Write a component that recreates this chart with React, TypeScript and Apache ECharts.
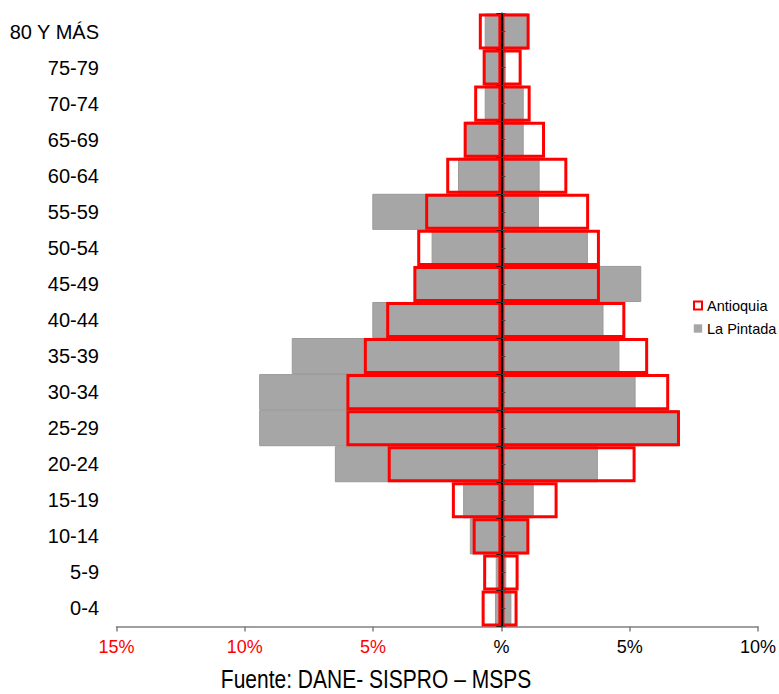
import React, { useEffect, useRef } from "react";
import * as echarts from "echarts";

// Age groups, bottom to top
const categories = [
  "0-4", "5-9", "10-14", "15-19", "20-24", "25-29", "30-34", "35-39", "40-44",
  "45-49", "50-54", "55-59", "60-64", "65-69", "70-74", "75-79", "80 Y MÁS",
];

// La Pintada (%), left side (men) and right side (women)
const laPintadaLeft = [0.25, 0.22, 1.23, 1.49, 6.49, 9.44, 9.44, 8.17, 5.03, 3.41, 2.72, 5.03, 1.69, 1.43, 0.65, 0.65, 0.65];
const laPintadaRight = [0.39, 0.19, 1.04, 1.26, 3.76, 6.91, 5.23, 4.6, 3.98, 5.45, 3.37, 1.46, 1.49, 0.87, 0.87, 0.17, 1.06];

// Antioquia (%), left side and right side
const antioquiaLeft = [0.77, 0.71, 1.12, 1.93, 4.43, 6.04, 6.04, 5.36, 4.49, 3.43, 3.28, 2.97, 2.15, 1.47, 1.06, 0.73, 0.88];
const antioquiaRight = [0.63, 0.67, 1.09, 2.19, 5.23, 6.96, 6.54, 5.72, 4.83, 3.84, 3.84, 3.42, 2.57, 1.7, 1.14, 0.79, 1.1];

const xTicks = [-15, -10, -5, 0, 5, 10];
const sourceText = "Fuente: DANE- SISPRO – MSPS";

const FONT = "'Liberation Sans', Arial, sans-serif";

export default function App() {
  const ref = useRef<HTMLDivElement>(null);

  useEffect(() => {
    if (!ref.current) return;
    const chart = echarts.init(ref.current, undefined, { renderer: "svg" });
    const halfCats = categories.flatMap((c) => [c + "_a", c + "_b"]);

    const greyStyle = { color: "#a6a6a6", borderColor: "#9a9a9a", borderWidth: 1 };
    const redStyle = { color: "rgba(255,255,255,0)", borderColor: "#ff0000", borderWidth: 3 };

    chart.setOption({
      animation: false,
      backgroundColor: "#ffffff",
      grid: { left: 116.5, right: 20.5, top: 13.5, bottom: 67.5, containLabel: false },
      legend: {
        orient: "vertical",
        left: 693,
        top: 298,
        padding: 0,
        itemWidth: 8,
        itemHeight: 8,
        itemGap: 8,
        textStyle: { fontFamily: FONT, fontSize: 14.5, color: "#000", lineHeight: 15 },
        data: [
          { name: "Antioquia", icon: "rect", itemStyle: { color: "#ffffff", borderColor: "#ff0000", borderWidth: 2 } },
          { name: "La Pintada", icon: "rect", itemStyle: { color: "#a6a6a6", borderColor: "#b0b0b0", borderWidth: 0.5 } },
        ],
      },
      xAxis: {
        type: "value",
        min: xTicks[0],
        max: xTicks[xTicks.length - 1],
        interval: 5,
        axisLine: { show: true, lineStyle: { color: "#808080", width: 1.5 } },
        axisTick: { show: true, length: 5, lineStyle: { color: "#808080", width: 1.5 } },
        splitLine: { show: false },
        axisLabel: {
          margin: 11,
          fontFamily: FONT,
          fontSize: 18,
          color: "#000",
          formatter: (v: number) => (v < 0 ? `{r|${-v}%}` : v === 0 ? "%" : `${v}%`),
          rich: { r: { color: "#ff0000", fontFamily: FONT, fontSize: 18 } },
        },
      },
      yAxis: [
        {
          type: "category",
          data: categories,
          position: "left",
          axisLine: { show: false, onZero: false },
          axisTick: { show: false },
          axisLabel: { margin: 17.5, fontFamily: FONT, fontSize: 20, color: "#000" },
        },
        {
          type: "category",
          data: categories,
          position: "left",
          z: 10,
          axisLine: { show: true, onZero: true, onZeroAxisIndex: 0, lineStyle: { color: "#000", width: 2 } },
          axisTick: { show: true, length: 5, inside: false, lineStyle: { color: "#222", width: 1 } },
          axisLabel: { show: false },
        },
        {
          type: "category",
          data: halfCats,
          position: "left",
          z: 10,
          axisLine: { show: false, onZero: true, onZeroAxisIndex: 0 },
          axisTick: { show: true, length: 4, inside: true, lineStyle: { color: "#444", width: 1 } },
          axisLabel: { show: false },
        },
      ],
      series: [
        {
          name: "La Pintada",
          type: "bar",
          data: laPintadaLeft.map((v) => -v),
          barGap: "-100%",
          barCategoryGap: "0%",
          itemStyle: greyStyle,
        },
        {
          name: "La Pintada",
          type: "bar",
          data: laPintadaRight,
          barGap: "-100%",
          barCategoryGap: "0%",
          itemStyle: greyStyle,
        },
        {
          name: "Antioquia",
          type: "bar",
          data: antioquiaLeft.map((v) => -v),
          barGap: "-100%",
          barCategoryGap: "0%",
          itemStyle: redStyle,
        },
        {
          name: "Antioquia",
          type: "bar",
          data: antioquiaRight,
          barGap: "-100%",
          barCategoryGap: "0%",
          itemStyle: redStyle,
        },
      ],
      graphic: [
        {
          type: "text",
          x: 376,
          y: 679,
          scaleX: 0.84,
          style: {
            text: sourceText,
            fontFamily: FONT,
            fontSize: 25,
            fill: "#000",
            textAlign: "center",
            textVerticalAlign: "middle",
          },
        },
      ],
    });

    return () => chart.dispose();
  }, []);

  return (
    <div
      ref={ref}
      style={{ position: "fixed", left: 0, top: 0, width: 779, height: 694, background: "#fff" }}
    />
  );
}
